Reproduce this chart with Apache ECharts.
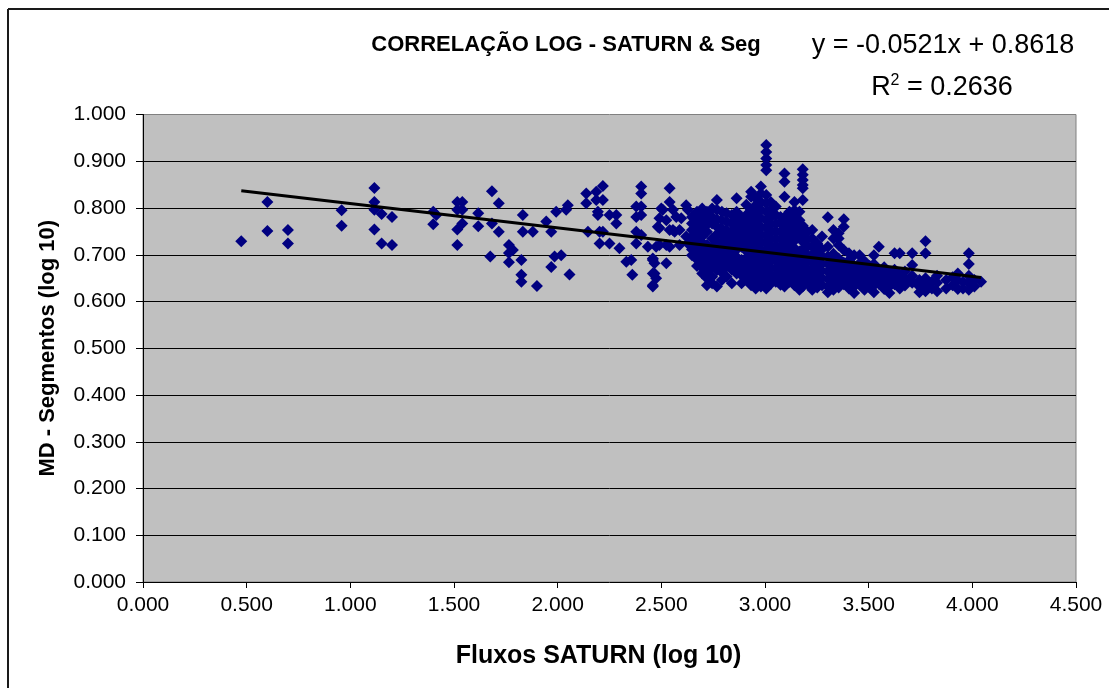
<!DOCTYPE html>
<html>
<head>
<meta charset="utf-8">
<title>CORRELAÇÃO LOG - SATURN &amp; Seg</title>
<script src="https://cdn.jsdelivr.net/npm/echarts@6.0.0/dist/echarts.min.js"></script>
<style>
  html, body { margin: 0; padding: 0; background: #ffffff; }
  #chart { width: 1109px; height: 688px; }
</style>
</head>
<body>
<div id="chart"></div>
<script>
// Fluxos SATURN (log 10) vs MD - Segmentos (log 10), one [x, y] pair per observation.
const sparseLeft = [
  [0.474, 0.729], [0.600, 0.813], [0.600, 0.751], [0.699, 0.753], [0.699, 0.724],
  [0.958, 0.795], [0.958, 0.762],
  [1.116, 0.843], [1.116, 0.813], [1.116, 0.796], [1.151, 0.787], [1.201, 0.781],
  [1.116, 0.754], [1.151, 0.724], [1.201, 0.721],
  [1.400, 0.792], [1.415, 0.785], [1.400, 0.765],
  [1.516, 0.813], [1.540, 0.813], [1.516, 0.796], [1.540, 0.796], [1.540, 0.767],
  [1.516, 0.754], [1.516, 0.721],
  [1.617, 0.789], [1.617, 0.761],
  [1.683, 0.836], [1.716, 0.810], [1.683, 0.767], [1.716, 0.749], [1.675, 0.696],
  [1.765, 0.721], [1.765, 0.704], [1.784, 0.710], [1.765, 0.684]
];

const midBand = [
  [1.825, 0.689], [1.825, 0.657], [1.825, 0.642], [1.832, 0.785], [1.832, 0.749],
  [1.880, 0.749], [1.900, 0.633], [1.945, 0.771], [1.969, 0.749], [1.993, 0.792],
  [2.041, 0.796], [2.049, 0.806], [1.985, 0.696], [2.017, 0.699], [1.969, 0.674],
  [2.057, 0.658], [2.138, 0.831], [2.138, 0.810], [2.186, 0.835], [2.218, 0.847],
  [2.186, 0.817], [2.218, 0.817], [2.194, 0.792], [2.194, 0.785], [2.146, 0.749],
  [2.202, 0.749], [2.218, 0.749], [2.202, 0.724], [2.250, 0.724], [2.250, 0.785],
  [2.283, 0.785], [2.283, 0.767], [2.298, 0.714], [2.331, 0.685], [2.355, 0.689],
  [2.360, 0.657], [2.403, 0.846], [2.403, 0.831], [2.379, 0.803], [2.403, 0.803],
  [2.403, 0.785], [2.379, 0.781], [2.379, 0.749], [2.403, 0.742], [2.379, 0.724],
  [2.435, 0.717], [2.459, 0.689], [2.459, 0.660], [2.475, 0.650], [2.459, 0.632],
  [2.491, 0.778], [2.507, 0.796], [2.491, 0.757], [2.491, 0.721], [2.524, 0.721],
  [2.524, 0.682], [2.540, 0.842], [2.540, 0.813], [2.556, 0.796], [2.572, 0.781],
  [2.596, 0.778], [2.556, 0.753], [2.564, 0.749], [2.588, 0.753], [2.620, 0.806],
  [2.628, 0.796], [2.620, 0.739], [2.628, 0.724], [2.500, 0.799], [2.483, 0.760],
  [2.524, 0.774], [2.540, 0.753], [2.475, 0.717], [2.540, 0.717], [2.588, 0.721],
  [2.459, 0.692], [2.467, 0.682], [2.467, 0.660], [2.459, 0.635]
];

// Dense part of the cloud: each row is one x value followed by the y values seen there.
const denseColumns = [
  [2.648, 0.781, 0.767, 0.753, 0.739, 0.724, 0.711, 0.699],
  [2.672, 0.792, 0.776, 0.760, 0.746, 0.731, 0.717, 0.703, 0.690, 0.676],
  [2.697, 0.799, 0.785, 0.770, 0.753, 0.739, 0.726, 0.712, 0.699, 0.685, 0.672, 0.660],
  [2.720, 0.792, 0.778, 0.764, 0.749, 0.721, 0.706, 0.692, 0.678, 0.664, 0.650, 0.635],
  [2.745, 0.799, 0.781, 0.767, 0.735, 0.717, 0.703, 0.689, 0.674, 0.653, 0.639],
  [2.768, 0.817, 0.796, 0.776, 0.760, 0.744, 0.728, 0.713, 0.699, 0.682, 0.667, 0.632],
  [2.792, 0.792, 0.774, 0.756, 0.741, 0.727, 0.710, 0.694, 0.678, 0.662, 0.646],
  [2.815, 0.789, 0.771, 0.753, 0.738, 0.721, 0.706, 0.690, 0.675, 0.653],
  [2.840, 0.785, 0.767, 0.749, 0.732, 0.715, 0.699, 0.684, 0.668, 0.639],
  [2.863, 0.821, 0.792, 0.774, 0.757, 0.742, 0.726, 0.711, 0.695, 0.680, 0.660],
  [2.887, 0.781, 0.764, 0.748, 0.733, 0.717, 0.689, 0.672, 0.656, 0.639],
  [2.910, 0.807, 0.785, 0.771, 0.756, 0.740, 0.724, 0.708, 0.693, 0.677, 0.661, 0.646],
  [2.933, 0.835, 0.824, 0.796, 0.778, 0.762, 0.746, 0.731, 0.715, 0.699, 0.684, 0.668, 0.653, 0.635],
  [2.955, 0.821, 0.806, 0.789, 0.771, 0.753, 0.738, 0.722, 0.706, 0.690, 0.674, 0.659, 0.642, 0.628],
  [2.980, 0.846, 0.831, 0.813, 0.796, 0.778, 0.760, 0.744, 0.728, 0.712, 0.697, 0.681, 0.665, 0.650, 0.632],
  [3.006, 0.935, 0.920, 0.906, 0.892, 0.881, 0.828, 0.810, 0.792, 0.774, 0.757, 0.740, 0.724, 0.708, 0.692, 0.676, 0.660, 0.644, 0.628],
  [3.028, 0.813, 0.796, 0.781, 0.764, 0.748, 0.732, 0.716, 0.701, 0.686, 0.670, 0.654, 0.638],
  [3.052, 0.803, 0.785, 0.767, 0.751, 0.735, 0.719, 0.703, 0.688, 0.672, 0.657, 0.642],
  [3.075, 0.781, 0.767, 0.749, 0.733, 0.717, 0.701, 0.684, 0.668, 0.652, 0.636],
  [3.094, 0.874, 0.856, 0.824, 0.780, 0.760, 0.744, 0.727, 0.710, 0.694, 0.679, 0.663, 0.648, 0.632],
  [3.118, 0.792, 0.771, 0.753, 0.737, 0.721, 0.705, 0.689, 0.673, 0.657, 0.642],
  [3.142, 0.813, 0.795, 0.781, 0.764, 0.748, 0.730, 0.714, 0.698, 0.682, 0.666, 0.650, 0.635],
  [3.166, 0.792, 0.774, 0.756, 0.740, 0.707, 0.690, 0.674, 0.658, 0.642, 0.625],
  [3.182, 0.883, 0.871, 0.860, 0.849, 0.842, 0.817, 0.762, 0.745, 0.728, 0.712, 0.696, 0.679, 0.663, 0.647, 0.632],
  [3.205, 0.749, 0.733, 0.717, 0.699, 0.684, 0.668, 0.652, 0.638],
  [3.228, 0.753, 0.735, 0.718, 0.701, 0.686, 0.670, 0.655, 0.640, 0.625],
  [3.252, 0.724, 0.708, 0.692, 0.676, 0.660, 0.645, 0.630],
  [3.275, 0.739, 0.712, 0.697, 0.681, 0.665, 0.650, 0.635],
  [3.303, 0.780, 0.717, 0.696, 0.680, 0.664, 0.648, 0.632, 0.620],
  [3.330, 0.753, 0.735, 0.702, 0.686, 0.670, 0.655, 0.640, 0.625],
  [3.355, 0.746, 0.735, 0.721, 0.692, 0.676, 0.660, 0.645, 0.630],
  [3.380, 0.776, 0.760, 0.710, 0.683, 0.667, 0.652, 0.637],
  [3.405, 0.703, 0.688, 0.672, 0.656, 0.641, 0.628],
  [3.430, 0.699, 0.676, 0.661, 0.646, 0.632, 0.618],
  [3.456, 0.699, 0.682, 0.665, 0.650, 0.636],
  [3.480, 0.686, 0.670, 0.655, 0.640, 0.625],
  [3.505, 0.676, 0.660, 0.645, 0.630],
  [3.525, 0.699, 0.680, 0.664, 0.649, 0.634, 0.620],
  [3.549, 0.717, 0.668, 0.653, 0.638],
  [3.575, 0.673, 0.657, 0.642, 0.627],
  [3.600, 0.662, 0.647, 0.632, 0.618],
  [3.625, 0.703, 0.668, 0.652, 0.637],
  [3.650, 0.703, 0.658, 0.642, 0.628],
  [3.675, 0.664, 0.648, 0.634],
  [3.710, 0.703, 0.678, 0.655, 0.640],
  [3.745, 0.646, 0.632, 0.620],
  [3.774, 0.729, 0.703, 0.650, 0.636, 0.622],
  [3.805, 0.642, 0.628],
  [3.830, 0.655, 0.640, 0.622],
  [3.874, 0.646, 0.628],
  [3.905, 0.652, 0.635],
  [3.930, 0.660, 0.645, 0.627],
  [3.955, 0.642, 0.628],
  [3.983, 0.703, 0.680, 0.655, 0.640, 0.625],
  [4.010, 0.646, 0.632],
  [4.042, 0.642]
];

// Linear trend reported for the cloud.
const trendSlope = -0.0521;
const trendIntercept = 0.8618;
const trendR2 = 0.2636;

const xTicks = { min: 0, max: 4.5, step: 0.5 };
const yTicks = { min: 0, max: 1, step: 0.1 };

const chartTitle = 'CORRELAÇÃO LOG - SATURN & Seg';
const xAxisTitle = 'Fluxos SATURN (log 10)';
const yAxisTitle = 'MD - Segmentos (log 10)';

// ---- build the series data ----
const densePoints = [];
denseColumns.forEach(function (row) {
  for (let i = 1; i < row.length; i++) densePoints.push([row[0], row[i]]);
});
const allPoints = sparseLeft.concat(midBand, densePoints);

let xMin = Infinity, xMax = -Infinity;
allPoints.forEach(function (p) { xMin = Math.min(xMin, p[0]); xMax = Math.max(xMax, p[0]); });
const trendLine = [
  [xMin, trendIntercept + trendSlope * xMin],
  [xMax, trendIntercept + trendSlope * xMax]
];

const FONT = '"Liberation Sans", Arial, Helvetica, sans-serif';
const fmt3 = function (v) { return v.toFixed(3); };

const chart = echarts.init(document.getElementById('chart'), null, { renderer: 'canvas' });

chart.setOption({
  animation: false,
  backgroundColor: '#ffffff',
  textStyle: { fontFamily: FONT },
  grid: {
    left: 143, top: 114.5, width: 933, height: 467.5,
    show: true, backgroundColor: '#c0c0c0', borderColor: '#808080', borderWidth: 1,
    containLabel: false
  },
  xAxis: {
    type: 'value', min: xTicks.min, max: xTicks.max, interval: xTicks.step,
    name: xAxisTitle, nameLocation: 'middle', nameGap: 62,
    nameTextStyle: { fontFamily: FONT, fontSize: 25, fontWeight: 'bold', color: '#000', padding: [0, 22, 0, 0] },
    axisLine: { show: true, onZero: false, lineStyle: { color: '#000', width: 1 } },
    axisTick: { show: true, inside: false, length: 6, lineStyle: { color: '#000', width: 1 } },
    axisLabel: { formatter: fmt3, fontFamily: FONT, fontSize: 21, color: '#000', margin: 13 },
    splitLine: { show: false }
  },
  yAxis: {
    type: 'value', min: yTicks.min, max: yTicks.max, interval: yTicks.step,
    name: yAxisTitle, nameLocation: 'middle', nameGap: 84,
    nameTextStyle: { fontFamily: FONT, fontSize: 22, fontWeight: 'bold', color: '#000' },
    axisLine: { show: true, onZero: false, lineStyle: { color: '#000', width: 1 } },
    axisTick: { show: true, inside: false, length: 7, lineStyle: { color: '#000', width: 1 } },
    axisLabel: { formatter: fmt3, fontFamily: FONT, fontSize: 21, color: '#000', margin: 17 },
    splitLine: { show: true, showMinLine: false, showMaxLine: false, lineStyle: { color: '#000', width: 1 } }
  },
  series: [
    {
      name: 'MD - Segmentos',
      type: 'scatter',
      data: allPoints,
      symbol: 'diamond',
      symbolSize: 12,
      itemStyle: { color: '#000080', opacity: 1 },
      z: 2
    },
    {
      name: 'Linear',
      type: 'line',
      data: trendLine,
      showSymbol: false,
      symbol: 'none',
      lineStyle: { color: '#000', width: 3 },
      z: 3
    }
  ],
  graphic: [
    { type: 'line', shape: { x1: 8, y1: 9, x2: 1109, y2: 9 }, style: { stroke: '#1a1a1a', lineWidth: 2 } },
    { type: 'line', shape: { x1: 8, y1: 9, x2: 8, y2: 688 }, style: { stroke: '#1a1a1a', lineWidth: 2 } },
    {
      type: 'text', x: 566, y: 45,
      style: {
        text: chartTitle, fill: '#000', font: 'bold 22px ' + FONT,
        align: 'center', verticalAlign: 'middle', textAlign: 'center', textVerticalAlign: 'middle'
      }
    },
    {
      type: 'text', x: 943, y: 46,
      style: {
        text: 'y = ' + trendSlope.toFixed(4) + 'x + ' + trendIntercept.toFixed(4),
        fill: '#000', font: '27px ' + FONT,
        align: 'center', verticalAlign: 'middle', textAlign: 'center', textVerticalAlign: 'middle'
      }
    },
    {
      type: 'text', x: 942, y: 88,
      style: {
        text: '{r|R}{s|2}{r| = ' + trendR2.toFixed(4) + '}',
        fill: '#000',
        align: 'center', verticalAlign: 'middle', textAlign: 'center', textVerticalAlign: 'middle',
        rich: {
          r: { fontSize: 27, fontFamily: FONT, fill: '#000', color: '#000' },
          s: { fontSize: 16, fontFamily: FONT, fill: '#000', color: '#000', verticalAlign: 'top', lineHeight: 30 }
        }
      }
    }
  ]
});
</script>
</body>
</html>
